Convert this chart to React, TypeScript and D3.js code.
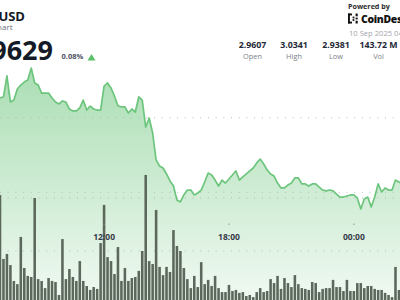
import React from 'react';
import * as d3 from 'd3';

const W = 400;
const H = 300;

const startTime = new Date(2025, 8, 9, 7, 0);
const endTime = new Date(2025, 8, 10, 2, 13);
const intervalMin = 10;

const prices = [
  3.0133, 3.014, 3.0281, 3.0106, 3.0119, 3.0193, 3.022, 3.024, 3.0254, 3.0334,
  3.0234, 3.022, 3.0166, 3.0166, 3.0166, 3.0133, 3.0106, 3.0093, 3.0113, 3.0106,
  3.0059, 3.0046, 3.0046, 3.0066, 3.0119, 3.0052, 3.0079, 3.0059, 3.0052, 3.0052,
  3.0213, 3.0234, 3.02, 3.0146, 3.0079, 3.0073, 3.0073, 3.0032, 3.0059, 3.0039,
  3.014, 3.0119, 2.9938, 2.9999, 2.9898, 2.9717, 2.9676, 2.9663, 2.9623, 2.9576,
  2.9542, 2.9448, 2.9435, 2.9482, 2.9515, 2.9515, 2.9482, 2.9495, 2.9515, 2.9569,
  2.9629, 2.9616, 2.9582, 2.9542, 2.9582, 2.9562, 2.9589, 2.9616, 2.9643, 2.9582,
  2.9603, 2.9623, 2.9643, 2.9663, 2.9697, 2.9723, 2.969, 2.965, 2.9623, 2.9609,
  2.9562, 2.9529, 2.9529, 2.9549, 2.9562, 2.9596, 2.9596, 2.9556, 2.9556, 2.9542,
  2.9556, 2.9556, 2.9535, 2.9515, 2.9509, 2.9515, 2.9509, 2.9488, 2.9468, 2.9468,
  2.9475, 2.9482, 2.9482, 2.9462, 2.9388, 2.9455, 2.9468, 2.9401, 2.9468, 2.9556,
  2.9502, 2.9529, 2.9515, 2.9515, 2.9582, 2.9569, 2.9556,
];

// volume per 10-minute bar, in millions
const volumes = [
  4.11, 1.7, 1.89, 1.47, 0.87, 0.75, 2.53, 1.36, 1.06, 1.02,
  4.0, 0.94, 0.87, 0.6, 0.98, 0.87, 0.83, 0.34, 2.45, 0.94,
  1.32, 1.02, 0.87, 1.62, 0.87, 0.68, 0.53, 0.64, 0.57, 2.3,
  3.74, 1.77, 1.62, 1.13, 2.15, 0.87, 1.36, 0.87, 0.98, 1.02,
  1.25, 2.0, 4.87, 1.62, 1.51, 3.55, 1.4, 1.09, 1.4, 1.21,
  2.79, 2.19, 2.0, 1.36, 0.94, 0.6, 1.06, 0.64, 1.58, 0.75,
  0.91, 0.68, 1.06, 0.6, 0.45, 0.45, 0.72, 0.49, 0.53, 0.42,
  0.45, 0.3, 0.34, 0.26, 0.45, 0.6, 0.45, 0.49, 0.94, 0.79,
  1.06, 0.57, 0.98, 0.79, 0.64, 1.09, 0.75, 0.6, 0.57, 0.53,
  0.83, 0.79, 0.45, 0.57, 0.6, 0.6, 0.91, 0.64, 0.64, 0.49,
  0.91, 0.49, 0.49, 0.79, 0.79, 0.6, 0.68, 0.68, 0.57, 0.53,
  0.53, 0.42, 0.34, 0.26, 1.4, 0.53,
];

const tickTimes = [
  new Date(2025, 8, 9, 12, 0),
  new Date(2025, 8, 9, 18, 0),
  new Date(2025, 8, 10, 0, 0),
];
const priceGrid = [2.95, 3.0];
const volumeGrid = [2, 4];

const pair = 'XRP-USD';
const subtitle = 'Price Chart';
const lastPrice = '2.9629';
const changePct = '0.08%';
const statValues = ['2.9607', '3.0341', '2.9381', '143.72 M'];
const statLabels = ['Open', 'High', 'Low', 'Vol'];
const dateText = '10 Sep 2025 04:00 UTC';

const FONT = "'Open Sans', 'Noto Sans', sans-serif";
const GREEN = '#6cc57c';

export default function App() {
  const x = d3.scaleTime().domain([startTime, endTime]).range([0, W]);
  const yPrice = d3.scaleLinear().domain([2.9381, 3.0341]).range([210, 67]);
  const yVol = d3.scaleLinear().domain([0, 4]).range([304, 198]);
  const timeAt = (i: number) => new Date(startTime.getTime() + i * intervalMin * 60000);

  const area = d3
    .area<number>()
    .x((_, i) => x(timeAt(i)))
    .y0(H)
    .y1((d) => yPrice(d));
  const line = d3
    .line<number>()
    .x((_, i) => x(timeAt(i)))
    .y((d) => yPrice(d));

  const step = x(timeAt(1)) - x(timeAt(0));
  const barW = step - 0.9;
  const fmt = d3.timeFormat('%H:%M');
  const statX = [252.5, 294, 336, 378.5];

  return (
    <svg
      width={W}
      height={H}
      style={{ position: 'fixed', left: 0, top: 0, background: '#fff' }}
      fontFamily={FONT}
    >
      <defs>
        <linearGradient id="areaGrad" gradientUnits="userSpaceOnUse" x1="0" y1="67" x2="0" y2="300">
          <stop offset="0" stopColor={GREEN} stopOpacity={0.58} />
          <stop offset="1" stopColor={GREEN} stopOpacity={0.1} />
        </linearGradient>
      </defs>
      <rect x={0} y={0} width={W} height={H} fill="#fff" />
      <path d={area(prices) || ''} fill="url(#areaGrad)" />

      {priceGrid.map((p) => (
        <line key={'pg' + p} x1={0} x2={W} y1={yPrice(p)} y2={yPrice(p)} stroke="#b5b9b5" strokeWidth={1} strokeDasharray="1 6.7" />
      ))}
      {volumeGrid.map((v) => (
        <line key={'vg' + v} x1={0} x2={W} y1={yVol(v)} y2={yVol(v)} stroke="#b5b9b5" strokeWidth={1} strokeDasharray="1 6.7" />
      ))}

      {volumes.map((v, i) => (
        <rect
          key={'b' + i}
          x={x(timeAt(i)) - barW / 2}
          y={yVol(v)}
          width={barW}
          height={Math.max(0, H - yVol(v))}
          fill="#5d685c"
        />
      ))}

      <path d={line(prices) || ''} fill="none" stroke={GREEN} strokeWidth={1.7} strokeLinejoin="round" />

      {tickTimes.map((t) => (
        <g key={'t' + t.getTime()}>
          <rect x={x(t) - 0.5} y={223.5} width={1} height={1.5} fill="#8a8f98" />
          <text x={x(t)} y={239.5} textAnchor="middle" fontSize={8.5} fontWeight={700} fill="#353c48">
            {fmt(t)}
          </text>
        </g>
      ))}

      {/* header left */}
      <text x={25} y={21} textAnchor="end" fontSize={13} fontWeight={700} fill="#141a26">{pair}</text>
      <text x={12.5} y={29.5} textAnchor="end" fontSize={8} fill="#6b7280">{subtitle}</text>
      <text x={53} y={60} textAnchor="end" fontSize={27} fontWeight={700} fill="#141a26">{lastPrice}</text>
      <text x={61.5} y={59} fontSize={7.5} fontWeight={700} fill="#4b5060">{changePct}</text>
      <path d="M87.5,60.5 L95.5,60.5 L91.5,54 Z" fill="#5cbf6a" />

      {/* header right */}
      <text x={348} y={9} fontSize={7.2} fontWeight={700} fill="#2b2b2b">Powered by</text>
      <g fill="#111">
        <rect x={348} y={13.5} width={1.9} height={10} />
        <rect x={348} y={13.5} width={4} height={1.9} />
        <rect x={348} y={21.6} width={4} height={1.9} />
        <rect x={352.6} y={16.6} width={1.8} height={1.8} />
        <rect x={352.6} y={19.1} width={1.8} height={1.8} />
        <rect x={355.6} y={13.5} width={2.1} height={2.8} />
        <rect x={355.6} y={17.6} width={2.1} height={1.8} />
        <rect x={355.6} y={20.7} width={2.1} height={2.8} />
      </g>
      <text x={361} y={23} fontSize={10.4} fontWeight={800} letterSpacing={-0.3} fill="#111">CoinDesk</text>
      <text x={349} y={36} fontSize={7.6} fill="#a3a6ab">{dateText}</text>

      {statValues.map((v, i) => (
        <g key={'s' + i}>
          <text x={statX[i]} y={48.3} textAnchor="middle" fontSize={8.8} fontWeight={700} fill="#1f2937">{v}</text>
          <text x={statX[i]} y={58.5} textAnchor="middle" fontSize={7.4} fill="#7a7f88">{statLabels[i]}</text>
        </g>
      ))}
    </svg>
  );
}
